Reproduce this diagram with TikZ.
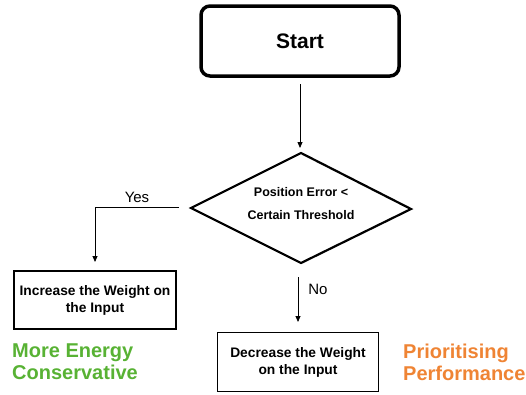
\documentclass[tikz,border=0pt]{standalone}
\usepackage{fontspec}
\setmainfont{Liberation Sans}
\usetikzlibrary{arrows.meta}
\definecolor{mygreen}{RGB}{88,178,52}
\definecolor{myorange}{RGB}{239,132,52}
\tikzset{
  conn/.style={line width=0.8pt, -{Triangle[length=6pt,width=5pt]}},
  boxnode/.style={draw, line width=1.2pt, minimum width=162pt, minimum height=58pt, align=center, font=\bfseries\fontsize{13.8}{17}\selectfont, inner sep=0pt},
  lbl/.style={font=\fontsize{15}{18}\selectfont, inner sep=0pt},
  note/.style={font=\bfseries\fontsize{20}{22}\selectfont, align=left, inner sep=0pt, anchor=west}
}
\begin{document}
\begin{tikzpicture}[x=1pt,y=-1pt]
\useasboundingbox (0,0) rectangle (526,394);
\node[draw, line width=3.5pt, rounded corners=9pt, minimum width=198pt, minimum height=70pt, font=\bfseries\fontsize{21}{24}\selectfont] (start) at (300,41) {Start};
\draw[line width=2.2pt, line join=miter] (301,153) coordinate (dt) -- (411,209) coordinate (dr) -- (301,263) coordinate (db) -- (191,208) coordinate (dl) -- cycle;
\node[align=center, font=\bfseries\fontsize{12.5}{23}\selectfont, inner sep=0pt] (dtext) at (301,204) {Position Error <\\Certain Threshold};
\coordinate (arrtop) at (300,84);
\coordinate (arrbot) at (300,148);
\draw[conn] (arrtop) -- (arrbot);
\node[boxnode] (inc) at (95,300) {Increase the Weight on\\the Input};
\node[boxnode, minimum width=161pt, minimum height=59pt] (dec) at (298,362) {Decrease the Weight\\on the Input};
\coordinate (yesstart) at (179,207);
\coordinate (yescorner) at (95,207);
\coordinate (yesend) at (95,262);
\draw[line width=0.8pt] (yesstart) -- (yescorner);
\draw[conn] (yescorner) -- (yesend);
\node[lbl] (yes) at (137,197) {Yes};
\coordinate (nostart) at (298,277);
\coordinate (noend) at (298,322);
\draw[conn] (nostart) -- (noend);
\node[lbl] (no) at (318,289) {No};
\node[note, text=mygreen] (green) at (12,362) {More Energy\\Conservative};
\node[note, text=myorange] (orange) at (403,362) {Prioritising\\Performance};
\end{tikzpicture}
\end{document}
